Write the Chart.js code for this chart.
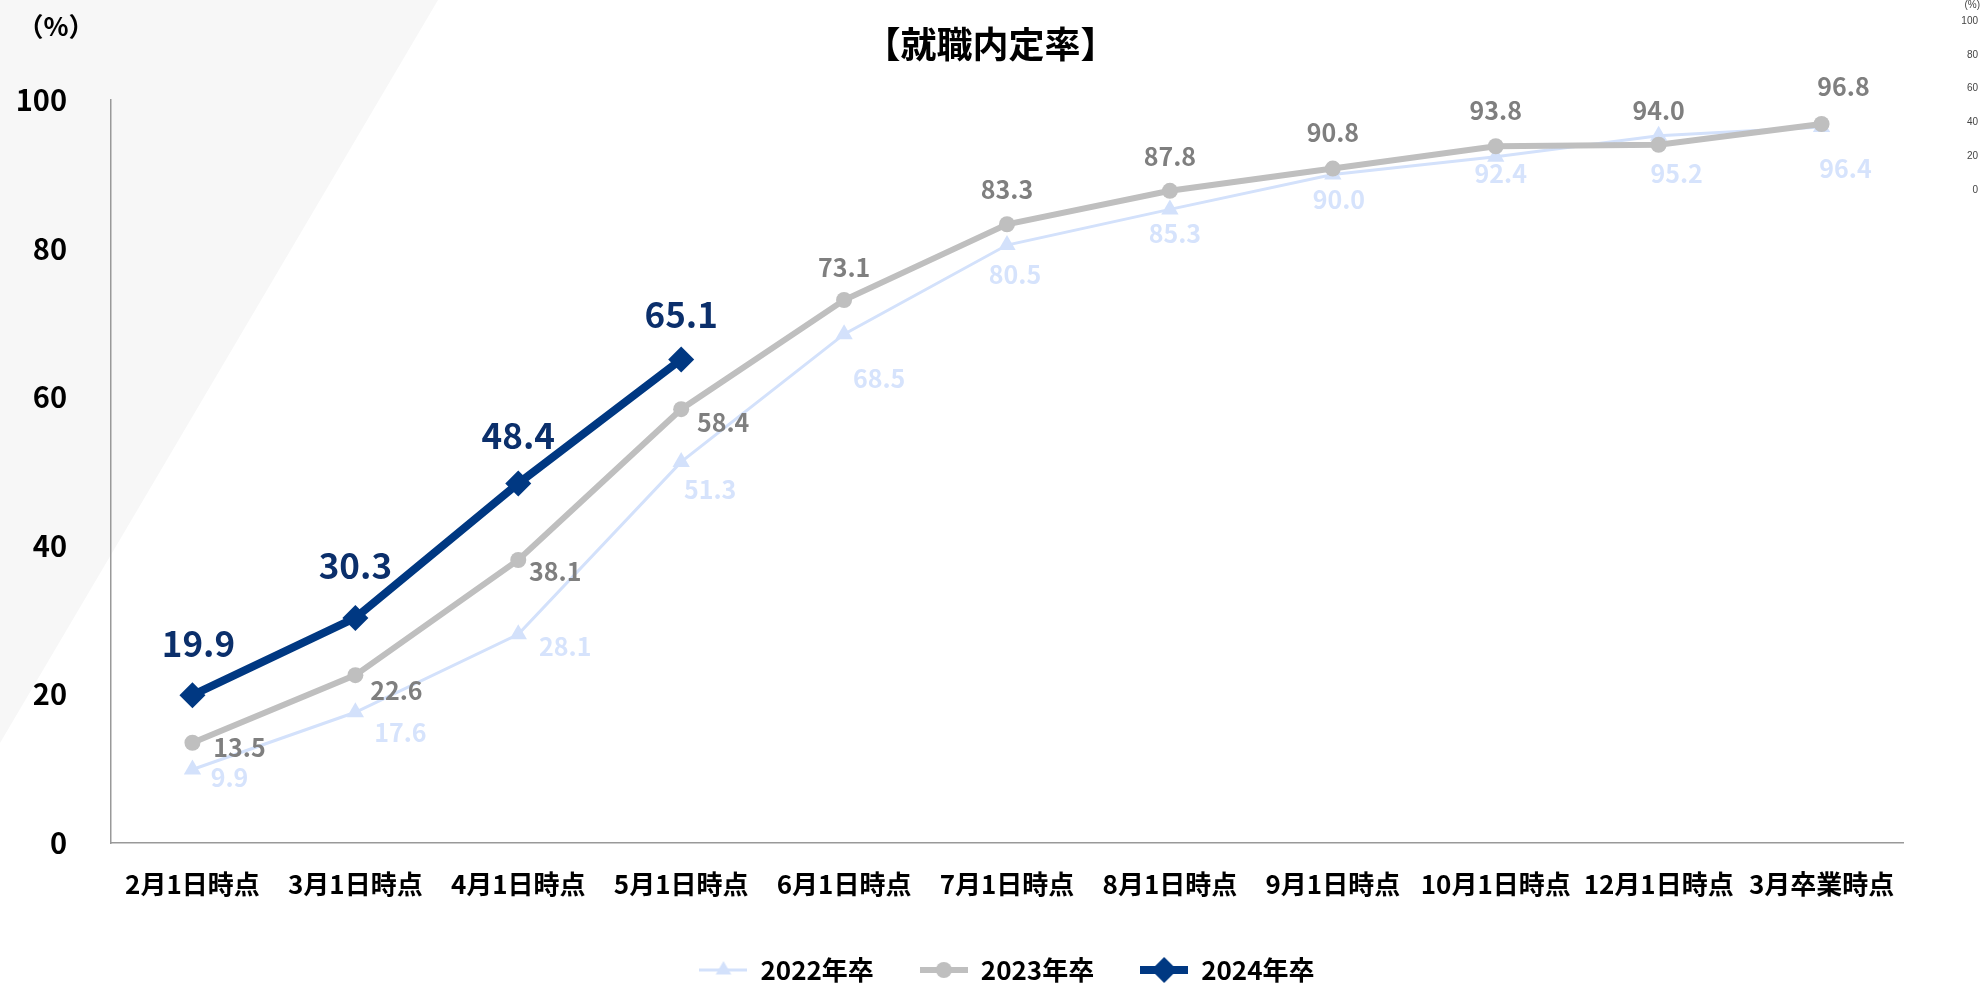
<!DOCTYPE html>
<html lang="ja">
<head>
<meta charset="utf-8">
<title>就職内定率</title>
<script src="https://cdn.jsdelivr.net/npm/chart.js@4.4.1/dist/chart.umd.min.js"></script>
<style>
  html, body { margin: 0; padding: 0; background: #fff; }
  canvas { display: block; }
</style>
</head>
<body>
<canvas id="rateChart" width="1981" height="983"></canvas>
<script>
"use strict";

// categories and values
const periods = ['2月1日時点', '3月1日時点', '4月1日時点', '5月1日時点', '6月1日時点', '7月1日時点',
  '8月1日時点', '9月1日時点', '10月1日時点', '12月1日時点', '3月卒業時点'];
const rate2022 = [9.9, 17.6, 28.1, 51.3, 68.5, 80.5, 85.3, 90.0, 92.4, 95.2, 96.4];
const rate2023 = [13.5, 22.6, 38.1, 58.4, 73.1, 83.3, 87.8, 90.8, 93.8, 94.0, 96.8];
const rate2024 = [19.9, 30.3, 48.4, 65.1];
const yTicks = [0, 20, 40, 60, 80, 100];
// leftover little axis in the top right corner of the slide
const cornerTicks = [100, 80, 60, 40, 20, 0];

// where each value label sits, relative to its point (px)
const offsets2022 = [[37, 8], [45, 20], [47, 12], [29, 28], [35, 44], [8, 29], [5, 24], [6, 25], [5, 17], [18, 38], [24, 42]];
const offsets2023 = [[47, 5], [41, 15], [37, 12], [42, 13], [0, -33], [0, -35], [0, -34], [0, -36], [0, -36], [0, -34], [22, -37]];
const offsets2024 = [[6, -51], [0, -52], [0, -48], [0, -45]];

const FONT = '"Noto Sans CJK JP", "Noto Sans", sans-serif';

// legend icon: a short line with the marker in the middle
function legendIcon(color, lineWidth, style, radius) {
  const c = document.createElement('canvas');
  c.width = 48;
  c.height = 28;
  const g = c.getContext('2d');
  g.strokeStyle = color;
  g.lineWidth = lineWidth;
  g.beginPath();
  g.moveTo(0, 14);
  g.lineTo(48, 14);
  g.stroke();
  g.fillStyle = color;
  Chart.helpers.drawPoint(g, { pointStyle: style, radius: radius, rotation: 0, borderWidth: 0 }, 24, 14);
  return c;
}

// grey slanted panel behind the top left
const backdrop = {
  id: 'backdrop',
  beforeDraw(chart) {
    const ctx = chart.ctx;
    ctx.save();
    ctx.fillStyle = '#f7f7f7';
    ctx.beginPath();
    ctx.moveTo(0, 0);
    ctx.lineTo(438, 0);
    ctx.lineTo(0, 743);
    ctx.closePath();
    ctx.fill();
    ctx.restore();
  },
  afterDraw(chart) {
    const ctx = chart.ctx;
    ctx.save();
    ctx.fillStyle = '#000';
    ctx.font = 'bold 26px ' + FONT;
    ctx.textAlign = 'center';
    ctx.textBaseline = 'middle';
    ctx.fillText('（%）', 56, 26);

    ctx.fillStyle = '#444';
    ctx.font = '10px "Liberation Sans", Arial, sans-serif';
    ctx.textAlign = 'right';
    ctx.fillText('(%)', 1980, 5);
    cornerTicks.forEach(v => {
      ctx.fillText(String(v), 1978, 190 - v * 1.69);
    });
    ctx.restore();
  }
};

// value labels next to the points
const pointLabels = {
  id: 'pointLabels',
  afterDatasetsDraw(chart) {
    const ctx = chart.ctx;
    chart.data.datasets.forEach((ds, i) => {
      const meta = chart.getDatasetMeta(i);
      ctx.save();
      ctx.font = ds.labelFont;
      ctx.fillStyle = ds.labelColor;
      ctx.textAlign = 'center';
      ctx.textBaseline = 'middle';
      meta.data.forEach((pt, j) => {
        const v = ds.data[j];
        if (v == null) return;
        const off = ds.labelOffsets[j];
        ctx.fillText(v.toFixed(1), pt.x + off[0], pt.y + off[1]);
      });
      ctx.restore();
    });
  }
};

const icons = {
  '2022年卒': legendIcon('#d3e1fb', 3, 'triangle', 9),
  '2023年卒': legendIcon('#bfbfbf', 6, 'circle', 8),
  '2024年卒': legendIcon('#003882', 8, 'rectRot', 13)
};

const ctx = document.getElementById('rateChart').getContext('2d');

new Chart(ctx, {
  type: 'line',
  data: {
    labels: periods,
    datasets: [
      {
        label: '2024年卒',
        data: rate2024,
        borderColor: '#003882',
        backgroundColor: '#003882',
        borderWidth: 8,
        pointStyle: 'rectRot',
        pointRadius: 13,
        pointBorderWidth: 0,
        labelFont: 'bold 35px ' + FONT,
        labelColor: '#0b2f6b',
        labelOffsets: offsets2024
      },
      {
        label: '2023年卒',
        data: rate2023,
        borderColor: '#bfbfbf',
        backgroundColor: '#bfbfbf',
        borderWidth: 6,
        pointStyle: 'circle',
        pointRadius: 8,
        pointBorderWidth: 0,
        labelFont: 'bold 25px ' + FONT,
        labelColor: '#7f7f7f',
        labelOffsets: offsets2023
      },
      {
        label: '2022年卒',
        data: rate2022,
        borderColor: '#d3e1fb',
        backgroundColor: '#d3e1fb',
        borderWidth: 3,
        pointStyle: 'triangle',
        pointRadius: 10,
        pointBorderWidth: 0,
        labelFont: 'bold 25px ' + FONT,
        labelColor: '#d6e3fc',
        labelOffsets: offsets2022
      }
    ]
  },
  options: {
    responsive: false,
    animation: false,
    layout: { padding: { left: 0, right: 0, top: 0, bottom: -10 } },
    scales: {
      x: {
        offset: true,
        grid: { display: false, drawTicks: false },
        border: { display: true, color: '#999999', width: 1.5 },
        ticks: {
          padding: 26,
          color: '#000',
          maxRotation: 0,
          autoSkip: false,
          font: { family: FONT, size: 26, weight: 'bold' }
        },
        afterFit(scale) { scale.height = 68; }
      },
      y: {
        min: 0,
        max: 100,
        grid: { display: false, drawTicks: false },
        border: { display: true, color: '#999999', width: 1.5 },
        ticks: {
          padding: 44,
          color: '#000',
          font: { family: FONT, size: 29, weight: 'bold' }
        },
        afterBuildTicks(scale) { scale.ticks = yTicks.map(v => ({ value: v })); },
        afterFit(scale) { scale.width = 111; }
      },
      yRight: {
        position: 'right',
        display: true,
        grid: { display: false, drawTicks: false },
        border: { display: false },
        ticks: { display: false },
        afterFit(scale) { scale.width = 78; }
      }
    },
    plugins: {
      title: {
        display: true,
        text: '【就職内定率】',
        color: '#000',
        font: { family: FONT, size: 36, weight: 'bold' },
        padding: { top: 23, bottom: 34 }
      },
      legend: {
        position: 'bottom',
        fullSize: false,
        labels: {
          usePointStyle: true,
          pointStyleWidth: 48,
          padding: 46,
          color: '#000',
          font: { family: FONT, size: 26, weight: 'bold' },
          sort: (a, b) => b.datasetIndex - a.datasetIndex,
          generateLabels(chart) {
            const items = Chart.defaults.plugins.legend.labels.generateLabels(chart);
            items.forEach(item => { item.pointStyle = icons[item.text]; });
            return items;
          }
        }
      },
      tooltip: { enabled: false }
    }
  },
  plugins: [backdrop, pointLabels]
});
</script>
</body>
</html>
